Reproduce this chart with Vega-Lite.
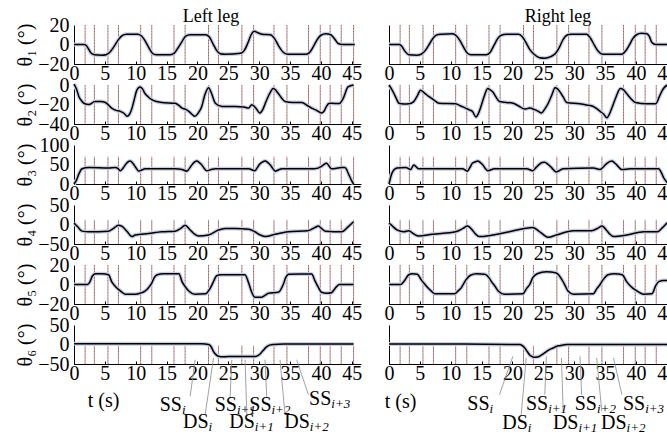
{
"$schema": "https://vega.github.io/schema/vega-lite/v6.json",
"padding": {"left": 15, "top": 8, "right": 0, "bottom": 0},
"columns": 2,
"spacing": {"row": 21, "column": 28},
"bounds": "flush",
"config": {
  "font": "Liberation Serif",
  "view": {"stroke": null},
  "axis": {"labelFont": "Liberation Serif", "labelFontSize": 20, "labelColor": "#000", "domainColor": "#000", "domainWidth": 1, "tickColor": "#000", "grid": false, "labelFlush": false, "labelOverlap": false, "labelBound": false, "titleFont": "Liberation Serif", "titleFontSize": 20, "titleFontWeight": "normal", "titleColor": "#000"},
  "axisX": {"tickSize": -3, "labelPadding": 2},
  "axisY": {"ticks": false, "labelPadding": 5}
},
"datasets": {
  "ev": [{"t":1.8},{"t":3.3},{"t":5.5},{"t":7.2},{"t":10.8},{"t":12.6},{"t":16.2},{"t":18.0},{"t":21.8},{"t":23.4},{"t":27.2},{"t":29.1},{"t":32.4},{"t":34.5},{"t":38.0},{"t":39.9},{"t":41.5},{"t":43.3},{"t":45.3}],
  "L1": [{"t":0,"v":0},{"t":1.6,"v":0},{"t":2.0,"v":-1},{"t":2.3,"v":-4},{"t":2.8,"v":-9},{"t":3.3,"v":-10.5},{"t":4.5,"v":-11},{"t":5.2,"v":-10.5},{"t":5.8,"v":-8},{"t":6.5,"v":-2},{"t":7.2,"v":5},{"t":7.8,"v":9},{"t":8.5,"v":10.5},{"t":10.3,"v":10.5},{"t":10.9,"v":9},{"t":11.5,"v":4},{"t":12.1,"v":-3},{"t":12.7,"v":-9},{"t":13.3,"v":-10.5},{"t":15.5,"v":-10.5},{"t":16.2,"v":-9},{"t":16.8,"v":-4},{"t":17.5,"v":3},{"t":18.1,"v":8.5},{"t":18.8,"v":10},{"t":21.3,"v":10},{"t":21.9,"v":8},{"t":22.5,"v":1},{"t":23.1,"v":-6},{"t":23.7,"v":-9.5},{"t":24.5,"v":-10},{"t":27.0,"v":-9},{"t":27.6,"v":-6},{"t":28.2,"v":2},{"t":28.7,"v":10},{"t":29.2,"v":13.5},{"t":29.8,"v":12},{"t":30.5,"v":10.5},{"t":31.8,"v":10},{"t":32.5,"v":6},{"t":33.2,"v":-2},{"t":33.9,"v":-8},{"t":34.6,"v":-10},{"t":37.6,"v":-10},{"t":38.2,"v":-8},{"t":38.8,"v":-2},{"t":39.4,"v":5},{"t":40.0,"v":9.5},{"t":40.8,"v":11},{"t":41.6,"v":10},{"t":42.2,"v":6},{"t":42.8,"v":1},{"t":43.5,"v":0},{"t":45.5,"v":0}],
  "R1": [{"t":0,"v":0},{"t":1.7,"v":0},{"t":2.1,"v":-2},{"t":2.6,"v":-7},{"t":3.2,"v":-10.5},{"t":4.5,"v":-11},{"t":5.2,"v":-10},{"t":5.9,"v":-6},{"t":6.6,"v":1},{"t":7.2,"v":7},{"t":7.8,"v":10},{"t":8.5,"v":10.5},{"t":10.3,"v":11},{"t":10.9,"v":9},{"t":11.5,"v":4},{"t":12.1,"v":-3},{"t":12.7,"v":-9},{"t":13.3,"v":-10.5},{"t":15.8,"v":-10.5},{"t":16.4,"v":-8},{"t":17.0,"v":-1},{"t":17.6,"v":6},{"t":18.2,"v":9.5},{"t":19.0,"v":10.5},{"t":21.0,"v":10.5},{"t":21.6,"v":8},{"t":22.2,"v":2},{"t":22.8,"v":-5},{"t":23.5,"v":-10},{"t":24.4,"v":-13.5},{"t":25.2,"v":-14},{"t":26.2,"v":-12.5},{"t":27.0,"v":-9},{"t":27.6,"v":-3},{"t":28.2,"v":5},{"t":28.8,"v":9.5},{"t":29.5,"v":10.5},{"t":32.0,"v":10.5},{"t":32.6,"v":7},{"t":33.3,"v":-1},{"t":33.9,"v":-7},{"t":34.6,"v":-10},{"t":37.7,"v":-10},{"t":38.3,"v":-7},{"t":38.9,"v":-1},{"t":39.5,"v":6},{"t":40.1,"v":10},{"t":40.9,"v":11.5},{"t":41.8,"v":11},{"t":42.2,"v":8},{"t":42.6,"v":2},{"t":43.2,"v":0},{"t":46.3,"v":0}],
  "L2": [{"t":0,"v":1},{"t":0.4,"v":-4},{"t":0.8,"v":-12},{"t":1.2,"v":-16},{"t":1.6,"v":-18.7},{"t":2.4,"v":-20},{"t":3.4,"v":-17},{"t":4.3,"v":-17},{"t":5.1,"v":-18},{"t":6.1,"v":-23.7},{"t":6.8,"v":-26},{"t":7.5,"v":-27},{"t":8.1,"v":-29},{"t":8.6,"v":-32},{"t":9.0,"v":-30},{"t":9.4,"v":-23.7},{"t":9.8,"v":-14},{"t":10.2,"v":-5},{"t":10.7,"v":-2},{"t":11.1,"v":-4},{"t":11.5,"v":-8.7},{"t":12.0,"v":-12},{"t":12.6,"v":-15},{"t":13.4,"v":-17},{"t":14.2,"v":-18},{"t":16.4,"v":-18.7},{"t":17.0,"v":-21},{"t":17.5,"v":-23.7},{"t":18.1,"v":-25},{"t":18.6,"v":-27},{"t":19.1,"v":-30},{"t":19.6,"v":-32},{"t":20.1,"v":-29},{"t":20.7,"v":-22},{"t":21.2,"v":-10},{"t":21.8,"v":-2.7},{"t":22.3,"v":-9},{"t":22.9,"v":-18.7},{"t":24.0,"v":-22},{"t":26.1,"v":-22},{"t":27.5,"v":-22.5},{"t":28.3,"v":-23.7},{"t":28.8,"v":-20.3},{"t":29.5,"v":-24},{"t":30.1,"v":-28.7},{"t":30.6,"v":-25},{"t":31.0,"v":-18.7},{"t":31.6,"v":-10},{"t":32.3,"v":-3.7},{"t":33.1,"v":-8.7},{"t":33.6,"v":-13},{"t":34.2,"v":-17},{"t":35.5,"v":-18},{"t":36.9,"v":-18},{"t":37.8,"v":-21},{"t":38.5,"v":-23.7},{"t":39.3,"v":-26},{"t":40.1,"v":-28.7},{"t":40.5,"v":-27},{"t":40.9,"v":-22},{"t":41.3,"v":-19},{"t":41.7,"v":-18.7},{"t":43.0,"v":-19},{"t":43.6,"v":-14},{"t":44.4,"v":-2},{"t":45.3,"v":0}],
  "R2": [{"t":0,"v":0},{"t":0.4,"v":-4},{"t":0.8,"v":-8.7},{"t":1.2,"v":-14},{"t":1.6,"v":-18.7},{"t":2.4,"v":-19.5},{"t":3.2,"v":-19.3},{"t":4.0,"v":-17},{"t":4.6,"v":-11},{"t":5.1,"v":-5.3},{"t":5.7,"v":-8},{"t":6.5,"v":-12},{"t":7.3,"v":-15.5},{"t":8.1,"v":-18.7},{"t":10.8,"v":-19.3},{"t":11.6,"v":-21.5},{"t":12.4,"v":-23.7},{"t":13.0,"v":-25.5},{"t":13.5,"v":-27},{"t":14.1,"v":-32.7},{"t":14.5,"v":-29},{"t":14.9,"v":-22},{"t":15.4,"v":-12},{"t":16.0,"v":-3.7},{"t":16.4,"v":-5},{"t":16.8,"v":-7},{"t":17.3,"v":-12},{"t":17.9,"v":-17},{"t":20.1,"v":-18.7},{"t":21.0,"v":-21.5},{"t":22.0,"v":-24.7},{"t":22.8,"v":-23.7},{"t":23.6,"v":-25.3},{"t":24.2,"v":-27},{"t":24.7,"v":-28.7},{"t":25.2,"v":-25},{"t":25.8,"v":-18.7},{"t":26.4,"v":-10},{"t":26.9,"v":-2.7},{"t":27.3,"v":-4},{"t":27.7,"v":-7},{"t":28.2,"v":-12},{"t":28.8,"v":-18},{"t":30.9,"v":-19.3},{"t":32.0,"v":-20.5},{"t":33.1,"v":-22},{"t":33.6,"v":-24},{"t":34.2,"v":-27},{"t":34.8,"v":-30},{"t":35.3,"v":-33.7},{"t":35.7,"v":-30},{"t":36.1,"v":-23.7},{"t":36.8,"v":-12},{"t":37.5,"v":-3.7},{"t":38.0,"v":-5},{"t":38.5,"v":-8.7},{"t":39.2,"v":-14},{"t":39.9,"v":-18},{"t":41.8,"v":-19.3},{"t":43.2,"v":-19.3},{"t":43.8,"v":-12},{"t":44.3,"v":-5.3},{"t":45.1,"v":-0.3},{"t":46.3,"v":0}],
  "L3": [{"t":0,"v":0},{"t":0.4,"v":10},{"t":0.76,"v":24.6},{"t":1.3,"v":39},{"t":2.4,"v":42.6},{"t":5.6,"v":41},{"t":6.7,"v":42.6},{"t":7.1,"v":40},{"t":7.5,"v":34},{"t":7.9,"v":40},{"t":8.3,"v":49},{"t":8.7,"v":56},{"t":9.1,"v":59},{"t":9.5,"v":54},{"t":9.9,"v":45},{"t":10.5,"v":33},{"t":11.0,"v":36},{"t":11.5,"v":39},{"t":16.4,"v":39},{"t":17.5,"v":37},{"t":18.3,"v":33},{"t":18.7,"v":40},{"t":19.1,"v":49},{"t":19.5,"v":56},{"t":19.9,"v":59},{"t":20.3,"v":55},{"t":20.7,"v":49},{"t":21.1,"v":40},{"t":21.5,"v":34},{"t":22.2,"v":37},{"t":22.9,"v":39},{"t":28.3,"v":39},{"t":29.3,"v":34},{"t":29.7,"v":42},{"t":30.1,"v":51},{"t":30.5,"v":56},{"t":31.0,"v":59},{"t":31.4,"v":55},{"t":31.8,"v":49},{"t":32.2,"v":40},{"t":32.6,"v":33},{"t":33.1,"v":36},{"t":33.7,"v":39},{"t":39.0,"v":39},{"t":40.1,"v":45},{"t":40.5,"v":50},{"t":40.9,"v":53},{"t":41.3,"v":47},{"t":41.7,"v":39},{"t":43.4,"v":42},{"t":43.9,"v":42},{"t":44.5,"v":25},{"t":45.0,"v":8},{"t":45.3,"v":0}],
  "R3": [{"t":0,"v":0},{"t":0.5,"v":28.7},{"t":1.3,"v":41},{"t":2.7,"v":42.6},{"t":3.5,"v":37},{"t":4.0,"v":49},{"t":4.8,"v":39},{"t":7.0,"v":39},{"t":11.9,"v":39},{"t":12.7,"v":33},{"t":13.1,"v":42},{"t":13.5,"v":53},{"t":14.0,"v":57},{"t":14.4,"v":59},{"t":14.8,"v":55},{"t":15.2,"v":49},{"t":15.6,"v":40},{"t":16.0,"v":34},{"t":17.1,"v":39},{"t":22.3,"v":39},{"t":23.3,"v":34},{"t":23.8,"v":42},{"t":24.4,"v":51},{"t":24.8,"v":55},{"t":25.2,"v":56},{"t":25.8,"v":50},{"t":26.3,"v":42.6},{"t":27.1,"v":31},{"t":28.2,"v":39},{"t":33.1,"v":41},{"t":34.2,"v":37},{"t":34.8,"v":45},{"t":35.3,"v":53},{"t":36.1,"v":59},{"t":36.5,"v":55},{"t":36.9,"v":49},{"t":37.7,"v":37},{"t":39.1,"v":39},{"t":43.7,"v":39},{"t":44.1,"v":30},{"t":44.5,"v":16},{"t":45.0,"v":5},{"t":45.3,"v":0}],
  "L4": [{"t":0,"v":4},{"t":0.6,"v":-6},{"t":1.3,"v":-17},{"t":2.4,"v":-18.6},{"t":5.6,"v":-17},{"t":6.4,"v":-10},{"t":7.2,"v":-1.7},{"t":7.8,"v":-5},{"t":8.6,"v":-18},{"t":9.4,"v":-31},{"t":9.9,"v":-27},{"t":12.1,"v":-23},{"t":14.2,"v":-18.6},{"t":16.4,"v":-17},{"t":17.3,"v":-10},{"t":18.0,"v":-1.7},{"t":18.7,"v":-12},{"t":19.4,"v":-23},{"t":20.2,"v":-29.7},{"t":21.8,"v":-27},{"t":23.4,"v":-14},{"t":24.5,"v":-10},{"t":26.1,"v":-10},{"t":28.3,"v":-12},{"t":29.3,"v":-18.6},{"t":30.2,"v":-27},{"t":31.0,"v":-31},{"t":32.6,"v":-25},{"t":34.7,"v":-18.6},{"t":37.9,"v":-16},{"t":39.0,"v":-8},{"t":39.6,"v":-4},{"t":40.1,"v":-10},{"t":40.7,"v":-17},{"t":43.4,"v":-18.6},{"t":44.4,"v":-6},{"t":45.3,"v":7}],
  "R4": [{"t":0,"v":4},{"t":0.7,"v":-6},{"t":1.3,"v":-14},{"t":2.4,"v":-18.6},{"t":3.2,"v":-16},{"t":4.0,"v":-24},{"t":4.8,"v":-29.7},{"t":7.0,"v":-25},{"t":10.8,"v":-18.6},{"t":12.0,"v":-10},{"t":12.7,"v":-4},{"t":13.5,"v":-14},{"t":14.0,"v":-24},{"t":14.6,"v":-31},{"t":16.8,"v":-27},{"t":19.5,"v":-18.6},{"t":23.3,"v":-7.6},{"t":24.4,"v":-18.6},{"t":25.1,"v":-27},{"t":25.8,"v":-33},{"t":27.1,"v":-27},{"t":29.9,"v":-16},{"t":32.8,"v":-16},{"t":34.0,"v":-8},{"t":34.5,"v":-4},{"t":35.3,"v":-16},{"t":35.8,"v":-25},{"t":36.4,"v":-31},{"t":38.5,"v":-27},{"t":41.3,"v":-18.6},{"t":43.5,"v":-18.6},{"t":44.3,"v":-8},{"t":45.1,"v":4},{"t":46.3,"v":12}],
  "L5": [{"t":0,"v":0},{"t":2.2,"v":0},{"t":2.6,"v":3},{"t":3.0,"v":9},{"t":3.5,"v":11},{"t":4.5,"v":11},{"t":5.6,"v":10},{"t":6.1,"v":3},{"t":6.7,"v":-2},{"t":7.2,"v":-5},{"t":7.8,"v":-8},{"t":8.3,"v":-10},{"t":9.9,"v":-10},{"t":10.7,"v":-9},{"t":11.5,"v":-6.7},{"t":12.1,"v":-3},{"t":12.6,"v":1.5},{"t":13.0,"v":7},{"t":13.5,"v":10},{"t":14.5,"v":11},{"t":17.0,"v":11},{"t":17.5,"v":3},{"t":18.0,"v":-2},{"t":18.6,"v":-6.7},{"t":19.6,"v":-10},{"t":21.3,"v":-9.5},{"t":22.1,"v":-3.4},{"t":22.6,"v":3},{"t":23.1,"v":9},{"t":23.8,"v":10},{"t":27.7,"v":10},{"t":28.3,"v":1.5},{"t":28.8,"v":-8},{"t":29.3,"v":-13},{"t":30.4,"v":-13},{"t":31.0,"v":-11},{"t":31.5,"v":-9},{"t":33.1,"v":-8},{"t":33.9,"v":0},{"t":34.3,"v":7},{"t":34.8,"v":10.5},{"t":38.5,"v":10.7},{"t":39.1,"v":3},{"t":39.6,"v":-3},{"t":40.1,"v":-8},{"t":41.0,"v":-9},{"t":41.7,"v":-8.5},{"t":42.3,"v":-4},{"t":43.0,"v":0},{"t":45.3,"v":0}],
  "R5": [{"t":0,"v":0},{"t":1.9,"v":0},{"t":2.4,"v":3},{"t":3.2,"v":10},{"t":3.8,"v":11},{"t":4.6,"v":10.5},{"t":5.2,"v":5},{"t":5.7,"v":1},{"t":6.3,"v":-3.4},{"t":6.9,"v":-7},{"t":7.4,"v":-9.5},{"t":10.6,"v":-9.5},{"t":11.2,"v":-6.5},{"t":11.7,"v":-3.4},{"t":12.1,"v":1},{"t":12.5,"v":5},{"t":13.2,"v":9.5},{"t":14.2,"v":11},{"t":15.5,"v":10.5},{"t":16.3,"v":6},{"t":16.6,"v":3},{"t":17.2,"v":-2},{"t":17.7,"v":-6.7},{"t":18.7,"v":-10},{"t":21.7,"v":-9.5},{"t":22.3,"v":-4},{"t":22.8,"v":0},{"t":23.3,"v":7},{"t":24.0,"v":11},{"t":25.5,"v":13},{"t":27.0,"v":12},{"t":28.2,"v":3},{"t":28.6,"v":-2},{"t":29.0,"v":-6.7},{"t":29.9,"v":-10},{"t":33.1,"v":-9.5},{"t":33.7,"v":-4},{"t":34.2,"v":0},{"t":34.7,"v":5},{"t":35.5,"v":10},{"t":36.5,"v":11},{"t":37.8,"v":10},{"t":38.5,"v":3},{"t":39.2,"v":-2},{"t":39.9,"v":-5.5},{"t":41.3,"v":-10},{"t":42.6,"v":-9.5},{"t":43.2,"v":-1.5},{"t":43.7,"v":3},{"t":44.5,"v":4},{"t":46.3,"v":4}],
  "L6": [{"t":0,"v":2},{"t":20.7,"v":2},{"t":21.8,"v":0},{"t":22.2,"v":-5},{"t":22.6,"v":-18},{"t":23.0,"v":-26},{"t":23.4,"v":-30},{"t":24.2,"v":-31.5},{"t":25.0,"v":-31},{"t":29.3,"v":-31},{"t":29.7,"v":-29},{"t":30.1,"v":-25},{"t":30.6,"v":-16},{"t":31.2,"v":-6},{"t":31.8,"v":-1},{"t":32.3,"v":0},{"t":34.0,"v":1},{"t":45.3,"v":1}],
  "R6": [{"t":0,"v":1},{"t":12.0,"v":1},{"t":21.2,"v":0},{"t":21.6,"v":-3},{"t":22.0,"v":-9},{"t":22.4,"v":-18},{"t":22.8,"v":-27},{"t":23.2,"v":-31},{"t":23.6,"v":-33},{"t":24.0,"v":-32},{"t":24.4,"v":-30},{"t":25.0,"v":-24},{"t":25.5,"v":-18},{"t":26.0,"v":-13},{"t":26.6,"v":-9},{"t":27.1,"v":-5},{"t":27.7,"v":-3},{"t":28.8,"v":0},{"t":46.3,"v":0}],
  "annL": [{"m":"SS","s":"i","t":17.48,"v":-156},{"m":"DS","s":"i","t":21.8,"v":-199},{"m":"SS","s":"i+1","t":26.4,"v":-156},{"m":"DS","s":"i+1","t":29.3,"v":-199},{"m":"SS","s":"i+2","t":32.0,"v":-156},{"m":"DS","s":"i+2","t":38.2,"v":-199},{"m":"SS","s":"i+3","t":41.7,"v":-140}],
  "annR": [{"m":"SS","s":"i","t":16.3,"v":-153},{"m":"DS","s":"i","t":22.5,"v":-201},{"m":"SS","s":"i+1","t":25.8,"v":-153},{"m":"DS","s":"i+1","t":30.7,"v":-201},{"m":"SS","s":"i+2","t":33.7,"v":-153},{"m":"DS","s":"i+2","t":38.5,"v":-201},{"m":"SS","s":"i+3","t":41.5,"v":-153}],
  "lnL": [{"t1":18.82,"v1":-132.8,"t2":19.63,"v2":-39},{"t1":21.25,"v1":-180,"t2":22.6,"v2":-34.6},{"t1":25.29,"v1":-137.2,"t2":25.57,"v2":-39},{"t1":28.0,"v1":-180,"t2":27.72,"v2":-39},{"t1":31.23,"v1":-137.2,"t2":30.95,"v2":-39},{"t1":34.19,"v1":-180,"t2":33.38,"v2":-39},{"t1":37.98,"v1":-128.7,"t2":36.08,"v2":-39}],
  "lnR": [{"t1":17.9,"v1":-128.7,"t2":20.07,"v2":-30.3},{"t1":21.42,"v1":-180,"t2":22.23,"v2":-34.6},{"t1":25.24,"v1":-128.7,"t2":25.5,"v2":-30.3},{"t1":28.22,"v1":-171.3,"t2":27.94,"v2":-34.6},{"t1":31.21,"v1":-128.7,"t2":30.95,"v2":-30.3},{"t1":34.47,"v1":-171.3,"t2":33.65,"v2":-34.6},{"t1":37.73,"v1":-128.7,"t2":36.38,"v2":-34.6}],
  "ttlL": [{"txt":"Left leg","t":22.2,"v":23}],
  "ttlR": [{"txt":"Right leg","t":27.4,"v":23}]
},
"concat": [
  {"width": 287, "height": 39,
   "encoding": {"x": {"field": "t", "type": "quantitative", "scale": {"domain": [0, 46.5], "nice": false}, "axis": {"values": [0,5,10,15,20,25,30,35,40,45], "title": null, "labelOverlap": false}}},
   "layer": [
     {"data": {"name": "ev"}, "mark": {"type": "rule", "color": "#c8504a", "strokeDash": [1, 2], "strokeWidth": 1}},
     {"data": {"name": "ev"}, "mark": {"type": "rule", "color": "#333333", "strokeDash": [1, 2], "strokeDashOffset": 1.5, "strokeWidth": 1}},
     {"data": {"name": "L1"}, "encoding": {"y": {"field": "v", "type": "quantitative", "scale": {"domain": [-20, 20], "nice": false}, "axis": {"values": [-20,0,20], "labelOverlap": false, "title": "θ₁ (°)", "titleX": -49, "titleY": 19.5, "titleBaseline": "middle"}}},
      "layer": [{"mark": {"type": "line", "color": "#c9cde2", "strokeWidth": 4, "interpolate": "monotone"}}, {"mark": {"type": "line", "color": "#000000", "strokeWidth": 1.5, "interpolate": "monotone"}}]},
     {"data": {"name": "ttlL"}, "mark": {"type": "text", "fontSize": 18, "baseline": "alphabetic", "align": "center", "color": "#000"}, "encoding": {"y": {"field": "v", "type": "quantitative", "scale": {"domain": [-20, 20], "nice": false}, "axis": {"values": [-20,0,20], "labelOverlap": false, "title": "θ₁ (°)", "titleX": -49, "titleY": 19.5, "titleBaseline": "middle"}}, "text": {"field": "txt"}}}
   ]},
  {"width": 287, "height": 39,
   "encoding": {"x": {"field": "t", "type": "quantitative", "scale": {"domain": [0, 46.5], "nice": false}, "axis": {"values": [0,5,10,15,20,25,30,35,40,45], "title": null, "labelOverlap": false}}},
   "layer": [
     {"data": {"name": "ev"}, "mark": {"type": "rule", "color": "#c8504a", "strokeDash": [1, 2], "strokeWidth": 1}},
     {"data": {"name": "ev"}, "mark": {"type": "rule", "color": "#333333", "strokeDash": [1, 2], "strokeDashOffset": 1.5, "strokeWidth": 1}},
     {"data": {"name": "R1"}, "encoding": {"y": {"field": "v", "type": "quantitative", "scale": {"domain": [-20, 20], "nice": false}, "axis": {"values": [-20,0,20], "title": null, "labels": false}}},
      "layer": [{"mark": {"type": "line", "color": "#c9cde2", "strokeWidth": 4, "interpolate": "monotone"}}, {"mark": {"type": "line", "color": "#000000", "strokeWidth": 1.5, "interpolate": "monotone"}}]},
     {"data": {"name": "ttlR"}, "mark": {"type": "text", "fontSize": 18, "baseline": "alphabetic", "align": "center", "color": "#000"}, "encoding": {"y": {"field": "v", "type": "quantitative", "scale": {"domain": [-20, 20], "nice": false}, "axis": {"values": [-20,0,20], "title": null, "labels": false}}, "text": {"field": "txt"}}}
   ]},
  {"width": 287, "height": 39,
   "encoding": {"x": {"field": "t", "type": "quantitative", "scale": {"domain": [0, 46.5], "nice": false}, "axis": {"values": [0,5,10,15,20,25,30,35,40,45], "title": null, "labelOverlap": false}}},
   "layer": [
     {"data": {"name": "ev"}, "mark": {"type": "rule", "color": "#c8504a", "strokeDash": [1, 2], "strokeWidth": 1}},
     {"data": {"name": "ev"}, "mark": {"type": "rule", "color": "#333333", "strokeDash": [1, 2], "strokeDashOffset": 1.5, "strokeWidth": 1}},
     {"data": {"name": "L2"}, "encoding": {"y": {"field": "v", "type": "quantitative", "scale": {"domain": [-40, 0], "nice": false}, "axis": {"values": [-40,-20,0], "labelOverlap": false, "title": "θ₂ (°)", "titleX": -49, "titleY": 19.5, "titleBaseline": "middle"}}},
      "layer": [{"mark": {"type": "line", "color": "#c9cde2", "strokeWidth": 4, "interpolate": "monotone"}}, {"mark": {"type": "line", "color": "#000000", "strokeWidth": 1.5, "interpolate": "monotone"}}]}
   ]},
  {"width": 287, "height": 39,
   "encoding": {"x": {"field": "t", "type": "quantitative", "scale": {"domain": [0, 46.5], "nice": false}, "axis": {"values": [0,5,10,15,20,25,30,35,40,45], "title": null, "labelOverlap": false}}},
   "layer": [
     {"data": {"name": "ev"}, "mark": {"type": "rule", "color": "#c8504a", "strokeDash": [1, 2], "strokeWidth": 1}},
     {"data": {"name": "ev"}, "mark": {"type": "rule", "color": "#333333", "strokeDash": [1, 2], "strokeDashOffset": 1.5, "strokeWidth": 1}},
     {"data": {"name": "R2"}, "encoding": {"y": {"field": "v", "type": "quantitative", "scale": {"domain": [-40, 0], "nice": false}, "axis": {"values": [-40,-20,0], "title": null, "labels": false}}},
      "layer": [{"mark": {"type": "line", "color": "#c9cde2", "strokeWidth": 4, "interpolate": "monotone"}}, {"mark": {"type": "line", "color": "#000000", "strokeWidth": 1.5, "interpolate": "monotone"}}]}
   ]},
  {"width": 287, "height": 39,
   "encoding": {"x": {"field": "t", "type": "quantitative", "scale": {"domain": [0, 46.5], "nice": false}, "axis": {"values": [0,5,10,15,20,25,30,35,40,45], "title": null, "labelOverlap": false}}},
   "layer": [
     {"data": {"name": "ev"}, "mark": {"type": "rule", "color": "#c8504a", "strokeDash": [1, 2], "strokeWidth": 1}, "encoding": {"y": {"datum": 0, "type": "quantitative", "scale": {"domain": [0, 100], "nice": false}, "axis": {"values": [0,50,100], "labelOverlap": false, "title": "θ₃ (°)", "titleX": -49, "titleY": 19.5, "titleBaseline": "middle"}}, "y2": {"datum": 70}}},
     {"data": {"name": "ev"}, "mark": {"type": "rule", "color": "#333333", "strokeDash": [1, 2], "strokeDashOffset": 1.5, "strokeWidth": 1}, "encoding": {"y": {"datum": 0, "type": "quantitative", "scale": {"domain": [0, 100], "nice": false}, "axis": {"values": [0,50,100], "labelOverlap": false, "title": "θ₃ (°)", "titleX": -49, "titleY": 19.5, "titleBaseline": "middle"}}, "y2": {"datum": 70}}},
     {"data": {"name": "L3"}, "encoding": {"y": {"field": "v", "type": "quantitative", "scale": {"domain": [0, 100], "nice": false}, "axis": {"values": [0,50,100], "labelOverlap": false, "title": "θ₃ (°)", "titleX": -49, "titleY": 19.5, "titleBaseline": "middle"}}},
      "layer": [{"mark": {"type": "line", "color": "#c9cde2", "strokeWidth": 4, "interpolate": "monotone"}}, {"mark": {"type": "line", "color": "#000000", "strokeWidth": 1.5, "interpolate": "monotone"}}]}
   ]},
  {"width": 287, "height": 39,
   "encoding": {"x": {"field": "t", "type": "quantitative", "scale": {"domain": [0, 46.5], "nice": false}, "axis": {"values": [0,5,10,15,20,25,30,35,40,45], "title": null, "labelOverlap": false}}},
   "layer": [
     {"data": {"name": "ev"}, "mark": {"type": "rule", "color": "#c8504a", "strokeDash": [1, 2], "strokeWidth": 1}, "encoding": {"y": {"datum": 0, "type": "quantitative", "scale": {"domain": [0, 100], "nice": false}, "axis": {"values": [0,50,100], "title": null, "labels": false}}, "y2": {"datum": 70}}},
     {"data": {"name": "ev"}, "mark": {"type": "rule", "color": "#333333", "strokeDash": [1, 2], "strokeDashOffset": 1.5, "strokeWidth": 1}, "encoding": {"y": {"datum": 0, "type": "quantitative", "scale": {"domain": [0, 100], "nice": false}, "axis": {"values": [0,50,100], "title": null, "labels": false}}, "y2": {"datum": 70}}},
     {"data": {"name": "R3"}, "encoding": {"y": {"field": "v", "type": "quantitative", "scale": {"domain": [0, 100], "nice": false}, "axis": {"values": [0,50,100], "title": null, "labels": false}}},
      "layer": [{"mark": {"type": "line", "color": "#c9cde2", "strokeWidth": 4, "interpolate": "monotone"}}, {"mark": {"type": "line", "color": "#000000", "strokeWidth": 1.5, "interpolate": "monotone"}}]}
   ]},
  {"width": 287, "height": 39,
   "encoding": {"x": {"field": "t", "type": "quantitative", "scale": {"domain": [0, 46.5], "nice": false}, "axis": {"values": [0,5,10,15,20,25,30,35,40,45], "title": null, "labelOverlap": false}}},
   "layer": [
     {"data": {"name": "ev"}, "mark": {"type": "rule", "color": "#c8504a", "strokeDash": [1, 2], "strokeWidth": 1}, "encoding": {"y": {"datum": -50, "type": "quantitative", "scale": {"domain": [-50, 50], "nice": false}, "axis": {"values": [-50,0,50], "labelOverlap": false, "title": "θ₄ (°)", "titleX": -49, "titleY": 19.5, "titleBaseline": "middle"}}, "y2": {"datum": 12}}},
     {"data": {"name": "ev"}, "mark": {"type": "rule", "color": "#333333", "strokeDash": [1, 2], "strokeDashOffset": 1.5, "strokeWidth": 1}, "encoding": {"y": {"datum": -50, "type": "quantitative", "scale": {"domain": [-50, 50], "nice": false}, "axis": {"values": [-50,0,50], "labelOverlap": false, "title": "θ₄ (°)", "titleX": -49, "titleY": 19.5, "titleBaseline": "middle"}}, "y2": {"datum": 12}}},
     {"data": {"name": "L4"}, "encoding": {"y": {"field": "v", "type": "quantitative", "scale": {"domain": [-50, 50], "nice": false}, "axis": {"values": [-50,0,50], "labelOverlap": false, "title": "θ₄ (°)", "titleX": -49, "titleY": 19.5, "titleBaseline": "middle"}}},
      "layer": [{"mark": {"type": "line", "color": "#c9cde2", "strokeWidth": 4, "interpolate": "monotone"}}, {"mark": {"type": "line", "color": "#000000", "strokeWidth": 1.5, "interpolate": "monotone"}}]}
   ]},
  {"width": 287, "height": 39,
   "encoding": {"x": {"field": "t", "type": "quantitative", "scale": {"domain": [0, 46.5], "nice": false}, "axis": {"values": [0,5,10,15,20,25,30,35,40,45], "title": null, "labelOverlap": false}}},
   "layer": [
     {"data": {"name": "ev"}, "mark": {"type": "rule", "color": "#c8504a", "strokeDash": [1, 2], "strokeWidth": 1}, "encoding": {"y": {"datum": -50, "type": "quantitative", "scale": {"domain": [-50, 50], "nice": false}, "axis": {"values": [-50,0,50], "title": null, "labels": false}}, "y2": {"datum": 12}}},
     {"data": {"name": "ev"}, "mark": {"type": "rule", "color": "#333333", "strokeDash": [1, 2], "strokeDashOffset": 1.5, "strokeWidth": 1}, "encoding": {"y": {"datum": -50, "type": "quantitative", "scale": {"domain": [-50, 50], "nice": false}, "axis": {"values": [-50,0,50], "title": null, "labels": false}}, "y2": {"datum": 12}}},
     {"data": {"name": "R4"}, "encoding": {"y": {"field": "v", "type": "quantitative", "scale": {"domain": [-50, 50], "nice": false}, "axis": {"values": [-50,0,50], "title": null, "labels": false}}},
      "layer": [{"mark": {"type": "line", "color": "#c9cde2", "strokeWidth": 4, "interpolate": "monotone"}}, {"mark": {"type": "line", "color": "#000000", "strokeWidth": 1.5, "interpolate": "monotone"}}]}
   ]},
  {"width": 287, "height": 39,
   "encoding": {"x": {"field": "t", "type": "quantitative", "scale": {"domain": [0, 46.5], "nice": false}, "axis": {"values": [0,5,10,15,20,25,30,35,40,45], "title": null, "labelOverlap": false}}},
   "layer": [
     {"data": {"name": "ev"}, "mark": {"type": "rule", "color": "#c8504a", "strokeDash": [1, 2], "strokeWidth": 1}},
     {"data": {"name": "ev"}, "mark": {"type": "rule", "color": "#333333", "strokeDash": [1, 2], "strokeDashOffset": 1.5, "strokeWidth": 1}},
     {"data": {"name": "L5"}, "encoding": {"y": {"field": "v", "type": "quantitative", "scale": {"domain": [-20, 20], "nice": false}, "axis": {"values": [-20,0,20], "labelOverlap": false, "title": "θ₅ (°)", "titleX": -49, "titleY": 19.5, "titleBaseline": "middle"}}},
      "layer": [{"mark": {"type": "line", "color": "#c9cde2", "strokeWidth": 4, "interpolate": "monotone"}}, {"mark": {"type": "line", "color": "#000000", "strokeWidth": 1.5, "interpolate": "monotone"}}]}
   ]},
  {"width": 287, "height": 39,
   "encoding": {"x": {"field": "t", "type": "quantitative", "scale": {"domain": [0, 46.5], "nice": false}, "axis": {"values": [0,5,10,15,20,25,30,35,40,45], "title": null, "labelOverlap": false}}},
   "layer": [
     {"data": {"name": "ev"}, "mark": {"type": "rule", "color": "#c8504a", "strokeDash": [1, 2], "strokeWidth": 1}},
     {"data": {"name": "ev"}, "mark": {"type": "rule", "color": "#333333", "strokeDash": [1, 2], "strokeDashOffset": 1.5, "strokeWidth": 1}},
     {"data": {"name": "R5"}, "encoding": {"y": {"field": "v", "type": "quantitative", "scale": {"domain": [-20, 20], "nice": false}, "axis": {"values": [-20,0,20], "title": null, "labels": false}}},
      "layer": [{"mark": {"type": "line", "color": "#c9cde2", "strokeWidth": 4, "interpolate": "monotone"}}, {"mark": {"type": "line", "color": "#000000", "strokeWidth": 1.5, "interpolate": "monotone"}}]}
   ]},
  {"width": 287, "height": 39,
   "encoding": {"x": {"field": "t", "type": "quantitative", "scale": {"domain": [0, 46.5], "nice": false}, "axis": {"values": [0,5,10,15,20,25,30,35,40,45], "labelOverlap": false, "title": "t (s)", "titleX": 29, "titleY": 36, "titleAlign": "center", "titleBaseline": "middle"}}},
   "layer": [
     {"data": {"name": "ev"}, "mark": {"type": "rule", "color": "#c8504a", "strokeDash": [1, 2], "strokeWidth": 1}, "encoding": {"y": {"datum": -50, "type": "quantitative", "scale": {"domain": [-50, 50], "nice": false}, "axis": {"values": [-50,0,50], "labelOverlap": false, "title": "θ₆ (°)", "titleX": -49, "titleY": 19.5, "titleBaseline": "middle"}}, "y2": {"datum": -3}}},
     {"data": {"name": "ev"}, "mark": {"type": "rule", "color": "#333333", "strokeDash": [1, 2], "strokeDashOffset": 1.5, "strokeWidth": 1}, "encoding": {"y": {"datum": -50, "type": "quantitative", "scale": {"domain": [-50, 50], "nice": false}, "axis": {"values": [-50,0,50], "labelOverlap": false, "title": "θ₆ (°)", "titleX": -49, "titleY": 19.5, "titleBaseline": "middle"}}, "y2": {"datum": -3}}},
     {"data": {"name": "L6"}, "encoding": {"y": {"field": "v", "type": "quantitative", "scale": {"domain": [-50, 50], "nice": false}, "axis": {"values": [-50,0,50], "labelOverlap": false, "title": "θ₆ (°)", "titleX": -49, "titleY": 19.5, "titleBaseline": "middle"}}},
      "layer": [{"mark": {"type": "line", "color": "#c9cde2", "strokeWidth": 4, "interpolate": "monotone"}}, {"mark": {"type": "line", "color": "#000000", "strokeWidth": 1.5, "interpolate": "monotone"}}]},
     {"data": {"name": "lnL"}, "mark": {"type": "rule", "color": "#8a8a8a", "strokeWidth": 0.8}, "encoding": {"x": {"field": "t1", "type": "quantitative", "scale": {"domain": [0, 46.5], "nice": false}, "axis": {"values": [0,5,10,15,20,25,30,35,40,45], "labelOverlap": false, "title": "t (s)", "titleX": 29, "titleY": 36, "titleAlign": "center", "titleBaseline": "middle"}}, "y": {"field": "v1", "type": "quantitative", "scale": {"domain": [-50, 50], "nice": false}, "axis": {"values": [-50,0,50], "labelOverlap": false, "title": "θ₆ (°)", "titleX": -49, "titleY": 19.5, "titleBaseline": "middle"}}, "x2": {"field": "t2"}, "y2": {"field": "v2"}}},
     {"data": {"name": "annL"}, "encoding": {"y": {"field": "v", "type": "quantitative", "scale": {"domain": [-50, 50], "nice": false}, "axis": {"values": [-50,0,50], "labelOverlap": false, "title": "θ₆ (°)", "titleX": -49, "titleY": 19.5, "titleBaseline": "middle"}}},
      "layer": [
        {"mark": {"type": "text", "align": "right", "baseline": "middle", "fontSize": 20, "color": "#000"}, "encoding": {"text": {"field": "m"}}},
        {"mark": {"type": "text", "align": "left", "baseline": "middle", "fontSize": 13, "fontStyle": "italic", "dy": 5, "color": "#000"}, "encoding": {"text": {"field": "s"}}}
      ]}
   ]},
  {"width": 287, "height": 39,
   "encoding": {"x": {"field": "t", "type": "quantitative", "scale": {"domain": [0, 46.5], "nice": false}, "axis": {"values": [0,5,10,15,20,25,30,35,40,45], "labelOverlap": false, "title": "t (s)", "titleX": 11, "titleY": 37, "titleAlign": "center", "titleBaseline": "middle"}}},
   "layer": [
     {"data": {"name": "ev"}, "mark": {"type": "rule", "color": "#c8504a", "strokeDash": [1, 2], "strokeWidth": 1}, "encoding": {"y": {"datum": -50, "type": "quantitative", "scale": {"domain": [-50, 50], "nice": false}, "axis": {"values": [-50,0,50], "title": null, "labels": false}}, "y2": {"datum": -3}}},
     {"data": {"name": "ev"}, "mark": {"type": "rule", "color": "#333333", "strokeDash": [1, 2], "strokeDashOffset": 1.5, "strokeWidth": 1}, "encoding": {"y": {"datum": -50, "type": "quantitative", "scale": {"domain": [-50, 50], "nice": false}, "axis": {"values": [-50,0,50], "title": null, "labels": false}}, "y2": {"datum": -3}}},
     {"data": {"name": "R6"}, "encoding": {"y": {"field": "v", "type": "quantitative", "scale": {"domain": [-50, 50], "nice": false}, "axis": {"values": [-50,0,50], "title": null, "labels": false}}},
      "layer": [{"mark": {"type": "line", "color": "#c9cde2", "strokeWidth": 4, "interpolate": "monotone"}}, {"mark": {"type": "line", "color": "#000000", "strokeWidth": 1.5, "interpolate": "monotone"}}]},
     {"data": {"name": "lnR"}, "mark": {"type": "rule", "color": "#8a8a8a", "strokeWidth": 0.8}, "encoding": {"x": {"field": "t1", "type": "quantitative", "scale": {"domain": [0, 46.5], "nice": false}, "axis": {"values": [0,5,10,15,20,25,30,35,40,45], "labelOverlap": false, "title": "t (s)", "titleX": 11, "titleY": 37, "titleAlign": "center", "titleBaseline": "middle"}}, "y": {"field": "v1", "type": "quantitative", "scale": {"domain": [-50, 50], "nice": false}, "axis": {"values": [-50,0,50], "title": null, "labels": false}}, "x2": {"field": "t2"}, "y2": {"field": "v2"}}},
     {"data": {"name": "annR"}, "encoding": {"y": {"field": "v", "type": "quantitative", "scale": {"domain": [-50, 50], "nice": false}, "axis": {"values": [-50,0,50], "title": null, "labels": false}}},
      "layer": [
        {"mark": {"type": "text", "align": "right", "baseline": "middle", "fontSize": 20, "color": "#000"}, "encoding": {"text": {"field": "m"}}},
        {"mark": {"type": "text", "align": "left", "baseline": "middle", "fontSize": 13, "fontStyle": "italic", "dy": 5, "color": "#000"}, "encoding": {"text": {"field": "s"}}}
      ]}
   ]}
]
}
